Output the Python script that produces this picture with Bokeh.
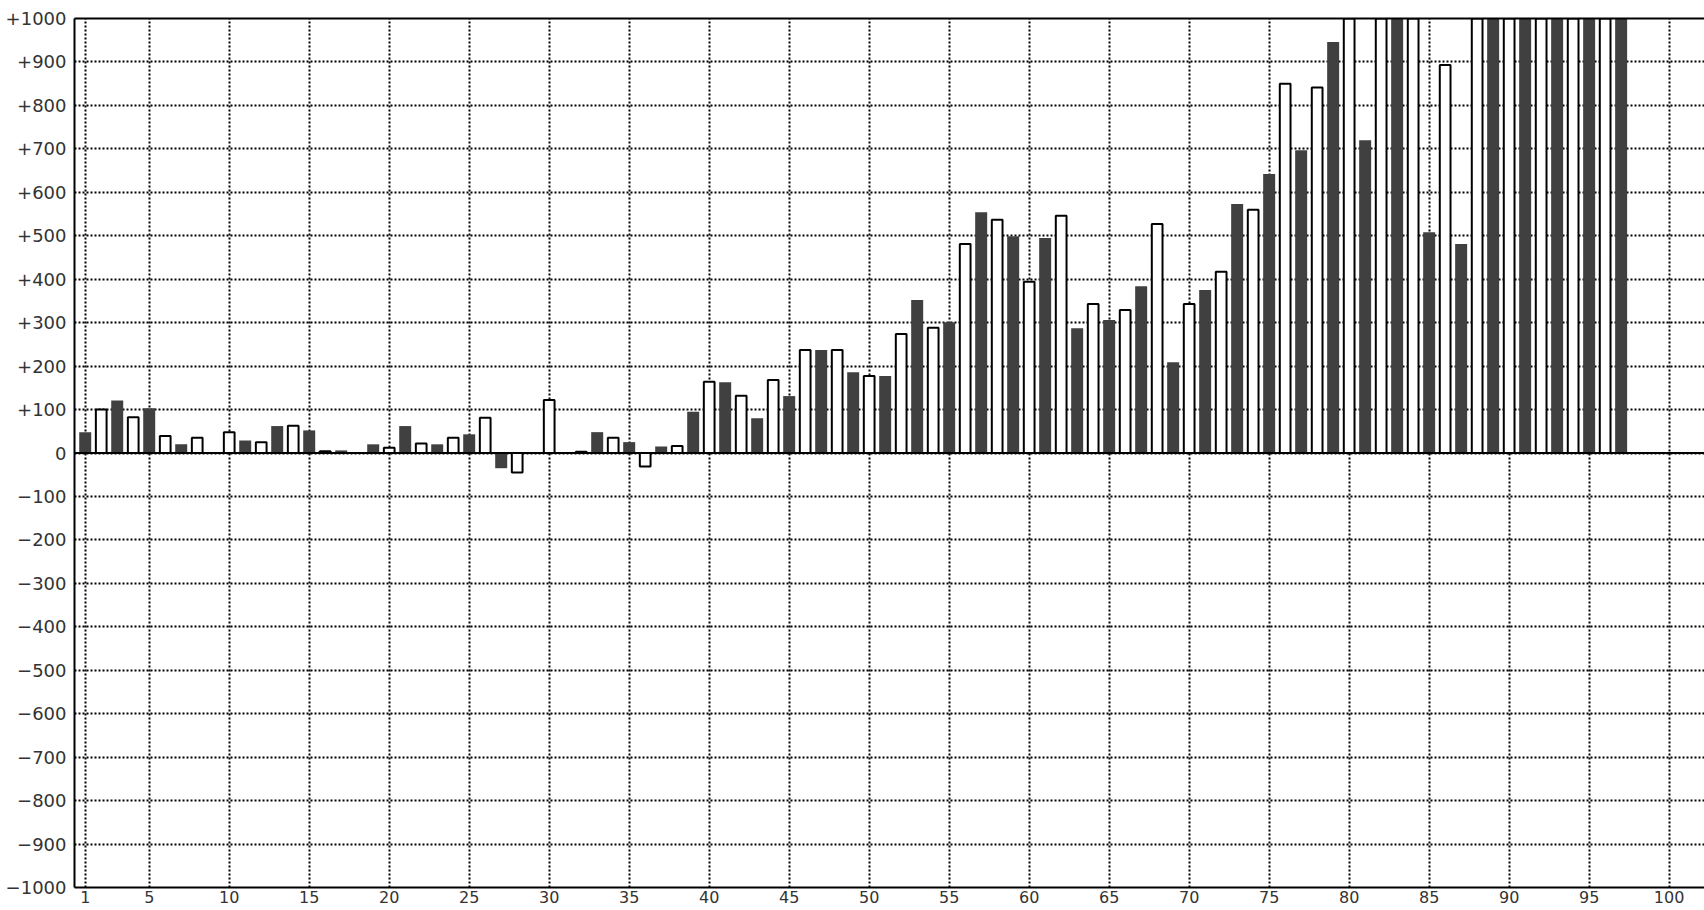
from bokeh.plotting import figure
from bokeh.models import Range1d, FixedTicker, LinearAxis, Span, ColumnDataSource
from bokeh.embed import file_html
from bokeh.resources import INLINE

# ---- data ----
dark_x = [1, 3, 5, 7, 9, 11, 13, 15, 17, 19, 21, 23, 25, 27, 29, 31, 33, 35, 37, 39,
          41, 43, 45, 47, 49, 51, 53, 55, 57, 59, 61, 63, 65, 67, 69, 71, 73, 75, 77, 79,
          81, 83, 85, 87, 89, 91, 93, 95, 97]
dark_values = [48, 121, 103, 20, 0, 29, 62, 52, 6, 20, 62, 20, 43, -35, 0, 0, 48, 25, 15, 95,
               163, 80, 131, 237, 186, 177, 352, 301, 554, 499, 495, 287, 306, 384, 209, 375, 573, 642, 697, 946,
               720, 1250, 508, 481, 1300, 1350, 1400, 1450, 1500]

light_x = [2, 4, 6, 8, 10, 12, 14, 16, 18, 20, 22, 24, 26, 28, 30, 32, 34, 36, 38, 40,
           42, 44, 46, 48, 50, 52, 54, 56, 58, 60, 62, 64, 66, 68, 70, 72, 74, 76, 78, 80,
           82, 84, 86, 88, 90, 92, 94, 96]
light_values = [100, 82, 39, 35, 48, 25, 63, 4, 0, 12, 22, 35, 81, -45, 122, 3, 35, -31, 16, 164,
                132, 168, 237, 237, 177, 274, 288, 481, 537, 394, 546, 343, 329, 527, 343, 417, 560, 850, 841, 1100,
                1150, 1200, 893, 1250, 1300, 1350, 1400, 1450]

x_ticks = [1, 5, 10, 15, 20, 25, 30, 35, 40, 45, 50, 55, 60, 65, 70, 75, 80, 85, 90, 95, 100]
y_ticks = [-1000, -900, -800, -700, -600, -500, -400, -300, -200, -100, 0,
           100, 200, 300, 400, 500, 600, 700, 800, 900, 1000]
y_tick_labels = ["\u22121000", "\u2212900", "\u2212800", "\u2212700", "\u2212600", "\u2212500",
                 "\u2212400", "\u2212300", "\u2212200", "\u2212100", "0",
                 "+100", "+200", "+300", "+400", "+500", "+600", "+700", "+800", "+900", "+1000"]

FONT = "DejaVu Sans"

p = figure(width=1704, height=910,
           x_range=Range1d(0.33, 102.21), y_range=Range1d(-1000, 1000),
           output_backend="svg", toolbar_location=None,
           min_border_left=74, min_border_top=18, min_border_right=0, min_border_bottom=23)
p.outline_line_color = None
p.background_fill_color = "white"
p.border_fill_color = "white"

dark_src = ColumnDataSource(dict(x=dark_x, top=dark_values))
light_src = ColumnDataSource(dict(x=light_x, top=light_values))

p.vbar(x="x", top="top", bottom=0, width=0.75, source=dark_src,
       fill_color="#404040", line_color=None)
p.vbar(x="x", top="top", bottom=0, width=0.67, source=light_src,
       fill_color="white", line_color="black", line_width=2)

p.add_layout(Span(location=0, dimension="width", line_color="black", line_width=2))

# axes
xa = p.xaxis[0]
xa.ticker = FixedTicker(ticks=x_ticks)
xa.axis_line_width = 2
xa.axis_line_color = "black"
xa.major_tick_out = 0
xa.major_tick_in = 0
xa.minor_tick_line_color = None
xa.major_label_standoff = 3
xa.major_label_text_font = FONT
xa.major_label_text_font_size = "16px"
xa.major_label_text_color = "#333333"

ya = p.yaxis[0]
ya.ticker = FixedTicker(ticks=y_ticks)
ya.major_label_overrides = {t: s for t, s in zip(y_ticks, y_tick_labels)}
ya.axis_line_width = 2
ya.axis_line_color = "black"
ya.major_tick_out = 0
ya.major_tick_in = 0
ya.minor_tick_line_color = None
ya.major_label_standoff = 8
ya.major_label_text_font = FONT
ya.major_label_text_font_size = "18px"
ya.major_label_text_color = "#333333"

top_axis = LinearAxis(ticker=FixedTicker(ticks=[]), axis_line_width=2, axis_line_color="black",
                      major_tick_line_color=None, minor_tick_line_color=None,
                      major_label_text_font_size="0px")
p.add_layout(top_axis, "above")

for g in (p.xgrid[0], p.ygrid[0]):
    g.grid_line_color = "black"
    g.grid_line_width = 2
    g.grid_line_dash = "2 2"

open("out.html", "w").write(file_html(p, INLINE))
